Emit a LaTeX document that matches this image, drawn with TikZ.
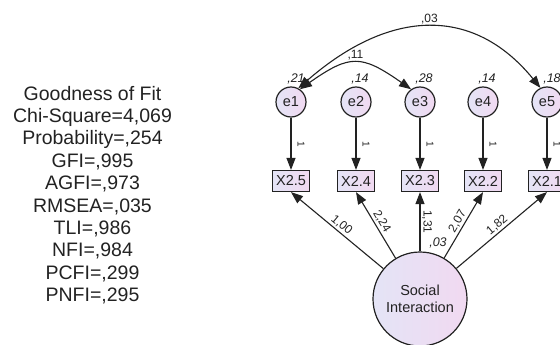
\documentclass[tikz,border=0pt]{standalone}
\usepackage{fontspec}
\setmainfont{Liberation Sans}
\usetikzlibrary{arrows.meta,calc}
\definecolor{lavA}{HTML}{E4E4F6}
\definecolor{lavB}{HTML}{F1D9F1}
\definecolor{ink}{HTML}{222222}
\begin{document}
\begin{tikzpicture}[x=1pt,y=-1pt,
  shape fill/.style={left color=lavA, right color=lavB},
  err/.style={circle, draw=ink, line width=1.2pt, minimum size=30pt, inner sep=0pt, shape fill, text=ink, font=\fontsize{14.5}{16}\selectfont},
  obs/.style={rectangle, draw=ink, line width=1.2pt, minimum width=37pt, minimum height=21pt, inner sep=0pt, shape fill, text=ink, font=\fontsize{14.5}{16}\selectfont},
  lat/.style={circle, draw=ink, line width=1.2pt, minimum size=94pt, inner sep=0pt, shape fill, align=center, text=ink, font=\fontsize{14.5}{17.5}\selectfont},
  arr/.style={-{Triangle[length=12pt,width=9pt]}, draw=ink, line width=1.1pt},
  biarr/.style={{Triangle[length=12pt,width=9pt]}-{Triangle[length=12pt,width=9pt]}, draw=ink, line width=1.1pt},
  lab/.style={font=\fontsize{12}{13}\selectfont, text=ink, inner sep=1.5pt},
  onelab/.style={font=\fontsize{10}{11}\selectfont, text=ink, inner sep=0pt},
  varlab/.style={font=\fontsize{12.5}{13}\selectfont\itshape, text=ink, inner sep=0pt},
  fittext/.style={align=center, text=ink, inner sep=0pt, font=\fontsize{19.5}{22.4}\selectfont}
]
\useasboundingbox (0,0) rectangle (560,345);
\clip (0,0) rectangle (560,345);

% goodness of fit text
\node[fittext] (gof) at (92.5,195) {Goodness of Fit\\Chi-Square=4,069\\Probability=,254\\GFI=,995\\AGFI=,973\\RMSEA=,035\\TLI=,986\\NFI=,984\\PCFI=,299\\PNFI=,295};

% variance labels
\node[varlab] (v1) at (296,79) {,21};
\node[varlab] (v2) at (360,79) {,14};
\node[varlab] (v3) at (424,79) {,28};
\node[varlab] (v4) at (487,79) {,14};
\node[varlab] (v5) at (552,79) {,18};

% error terms
\node[err] (e1) at (291,102) {e1};
\node[err] (e2) at (356,102) {e2};
\node[err] (e3) at (420,102) {e3};
\node[err] (e4) at (483,102) {e4};
\node[err] (e5) at (547,102) {e5};

% observed
\node[obs] (x5) at (291,181) {X2.5};
\node[obs] (x4) at (356,181) {X2.4};
\node[obs] (x3) at (420,181) {X2.3};
\node[obs] (x2) at (483,181) {X2.2};
\node[obs] (x1) at (547,181) {X2.1};

% latent
\node[lat] (si) at (420,299) {Social\\Interaction};
\node[varlab] (vsi) at (438,243) {,03};

% error paths
\draw[arr] (e1) -- (x5);
\draw[arr] (e2) -- (x4);
\draw[arr] (e3) -- (x3);
\draw[arr] (e4) -- (x2);
\draw[arr] (e5) -- (x1);
\node[onelab, rotate=-90] (p1) at ($(e1)!0.53!(x5)+(10,0)$) {1};
\node[onelab, rotate=-90] (p2) at ($(e2)!0.53!(x4)+(10,0)$) {1};
\node[onelab, rotate=-90] (p3) at ($(e3)!0.53!(x3)+(10,0)$) {1};
\node[onelab, rotate=-90] (p4) at ($(e4)!0.53!(x2)+(10,0)$) {1};
\node[onelab, rotate=-90] (p5) at ($(e5)!0.53!(x1)+(10,0)$) {1};

% loadings
\draw[arr] (si) -- (x5.south) node[lab, pos=0.5, sloped, above] (r5) {1,00};
\draw[arr] (si) -- (x4.south) node[lab, pos=0.5, sloped, above] (r4) {2,24};
\draw[arr] (si) -- (x3.south) node[lab, pos=0.5, rotate=-90, anchor=south] (r3) {1,31};
\draw[arr] (si) -- (x2.south) node[lab, pos=0.5, sloped, above] (r2) {2,07};
\draw[arr] (si) -- (x1.south) node[lab, pos=0.5, sloped, above] (r1) {1,82};

% covariances
\draw[biarr] (e1.55) .. controls +(50,-35) and +(-50,-35) .. (e3.125)
  node[lab, pos=0.5, above=1pt] (c13) {,11};
\draw[biarr] (e1.62) .. controls +(93,-81) and +(-66,-81) .. (e5.115)
  node[lab, pos=0.5, above=1pt] (c15) {,03};
\end{tikzpicture}
\end{document}
